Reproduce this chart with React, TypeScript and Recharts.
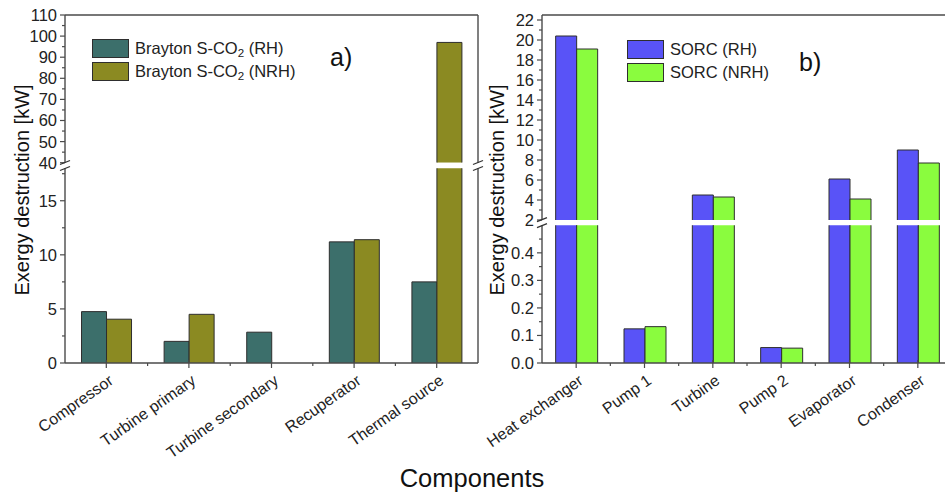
import React from "react";
import { Bar, BarChart, XAxis, YAxis } from "recharts";

const braytonCategories = ["Compressor", "Turbine primary", "Turbine secondary", "Recuperator", "Thermal source"];
const braytonRH = [4.75, 2.0, 2.85, 11.2, 7.5];
const braytonNRH = [4.05, 4.5, null, 11.4, 97];

const sorcCategories = ["Heat exchanger", "Pump 1", "Turbine", "Pump 2", "Evaporator", "Condenser"];
const sorcRH = [20.4, 0.124, 4.5, 0.056, 6.1, 9.0];
const sorcNRH = [19.1, 0.132, 4.3, 0.054, 4.1, 7.7];

// tick labels (major) and minor tick positions for each axis segment
const braytonUpperTicks = [40, 50, 60, 70, 80, 90, 100, 110];
const braytonUpperMinor = [45, 55, 65, 75, 85, 95, 105];
const braytonLowerTicks = [0, 5, 10, 15];
const braytonLowerMinor = [2.5, 7.5, 12.5, 17.5];
const sorcUpperTicks = [2, 4, 6, 8, 10, 12, 14, 16, 18, 20, 22];
const sorcUpperMinor = [3, 5, 7, 9, 11, 13, 15, 17, 19, 21];
const sorcLowerTicks = [0, 0.1, 0.2, 0.3, 0.4];
const sorcLowerMinor = [0.05, 0.15, 0.25, 0.35, 0.45];

const FONT = "'Liberation Sans', Arial, sans-serif";
const AXIS = "#4a4a4a";
const TEAL = "#3c6f6b";
const OLIVE = "#8b8a22";
const BLUE = "#5953f7";
const GREEN = "#8afc3e";
const EDGE = "#2e2e2e";

const H = 494;

type Panel = {
  x0: number;
  x1: number;
  width: number;
  upper: { y0: number; y1: number; domain: [number, number] };
  lower: { y0: number; y1: number; domain: [number, number] };
};

const left: Panel = {
  x0: 65,
  x1: 478,
  width: 480,
  upper: { y0: 15, y1: 162.7, domain: [40, 110] },
  lower: { y0: 168.3, y1: 363, domain: [0, 18] },
};
const right: Panel = {
  x0: 542,
  x1: 952,
  width: 952,
  upper: { y0: 15, y1: 220, domain: [2, 22.5] },
  lower: { y0: 225.3, y1: 363, domain: [0, 0.5] },
};

function buildRows(cats: string[], a: (number | null)[], b: (number | null)[]) {
  return cats.map((name, i) => ({ name, a: a[i], b: b[i] }));
}

function makeYTick(majors: number[], fmt: (v: number) => string) {
  return (props: any) => {
    const { x, y, payload } = props;
    const v = payload.value as number;
    const isMajor = majors.some((m) => Math.abs(m - v) < 1e-9);
    return (
      <g>
        <line x1={x} x2={x - (isMajor ? 5 : 3)} y1={y} y2={y} stroke={AXIS} strokeWidth={1.2} />
        {isMajor && (
          <text x={x - 8} y={y} dy="0.36em" textAnchor="end" fontFamily={FONT} fontSize={16.5} fill="#222">
            {fmt(v)}
          </text>
        )}
      </g>
    );
  };
}

function makeXTick(band: number, count: number) {
  return (props: any) => {
    const { x, y, payload, index } = props;
    return (
      <g>
        <line x1={x} x2={x} y1={y - 3} y2={y + 5} stroke={AXIS} strokeWidth={1.2} />
        {index < count - 1 && (
          <line x1={x + band / 2} x2={x + band / 2} y1={y} y2={y + 3} stroke={AXIS} strokeWidth={1.2} />
        )}
        <text
          transform={`translate(${x + 8},${y + 20}) rotate(-35)`}
          textAnchor="end"
          fontFamily={FONT}
          fontSize={16}
          fill="#222"
        >
          {payload.value}
        </text>
      </g>
    );
  };
}

// bar body with outline on the left, top and right sides only, so the axis break stays clean
function OpenBar(props: any) {
  const { x, y, width, height, fill } = props;
  if (!height || height <= 0) return null;
  return (
    <g>
      <rect x={x} y={y} width={width} height={height} fill={fill} />
      <path
        d={`M${x},${y + height} L${x},${y} L${x + width},${y} L${x + width},${y + height}`}
        fill="none"
        stroke={EDGE}
        strokeWidth={1}
      />
    </g>
  );
}

function Segment({
  panel,
  part,
  rows,
  colors,
  ticks,
  minor,
  fmt,
}: {
  panel: Panel;
  part: "upper" | "lower";
  rows: { name: string; a: number | null; b: number | null }[];
  colors: [string, string];
  ticks: number[];
  minor: number[];
  fmt: (v: number) => string;
}) {
  const seg = panel[part];
  const isLower = part === "lower";
  const xAxisH = isLower ? 100 : 1;
  const margin = isLower
    ? { top: seg.y0, right: panel.width - panel.x1 - 1, left: panel.x0 - 60, bottom: H - seg.y1 - xAxisH }
    : { top: seg.y0 - 1, right: panel.width - panel.x1 - 1, left: panel.x0 - 60, bottom: H - seg.y1 };
  // upper segment only shows the part of a bar above its lower bound
  const data = isLower ? rows : rows.map((r) => ({
    name: r.name,
    a: r.a != null && r.a > seg.domain[0] ? r.a : null,
    b: r.b != null && r.b > seg.domain[0] ? r.b : null,
  }));
  const band = (panel.x1 - panel.x0) / rows.length;
  const allTicks = [...ticks, ...minor].sort((p, q) => p - q);
  return (
    <div style={{ position: "absolute", left: 0, top: 0 }}>
      <BarChart width={panel.width} height={H} data={data} margin={margin} barCategoryGap="20%" barGap={0}>
        {isLower ? (
          <XAxis
            dataKey="name"
            height={xAxisH}
            interval={0}
            tickSize={0}
            tickMargin={0}
            tickLine={false}
            axisLine={{ stroke: AXIS, strokeWidth: 1.4 }}
            tick={makeXTick(band, rows.length)}
          />
        ) : (
          <XAxis
            dataKey="name"
            orientation="top"
            height={1}
            tick={false}
            tickLine={false}
            axisLine={{ stroke: AXIS, strokeWidth: 1.4 }}
          />
        )}
        <YAxis
          type="number"
          domain={seg.domain}
          allowDataOverflow
          ticks={allTicks}
          interval={0}
          width={60}
          tickSize={0}
          tickMargin={0}
          tickLine={false}
          axisLine={{ stroke: AXIS, strokeWidth: 1.4 }}
          tick={makeYTick(ticks, fmt)}
        />
        <YAxis
          yAxisId="frame"
          orientation="right"
          type="number"
          domain={[0, 1]}
          width={1}
          tick={false}
          tickLine={false}
          axisLine={{ stroke: AXIS, strokeWidth: 1.4 }}
        />
        <Bar dataKey="a" fill={colors[0]} shape={OpenBar} isAnimationActive={false} />
        <Bar dataKey="b" fill={colors[1]} shape={OpenBar} isAnimationActive={false} />
      </BarChart>
    </div>
  );
}

function BreakMark({ x, y }: { x: number; y: number }) {
  return (
    <g stroke="#333" strokeWidth={1.3}>
      <line x1={x - 5} y1={y - 1} x2={x + 5} y2={y - 5} />
      <line x1={x - 5} y1={y + 5} x2={x + 5} y2={y + 1} />
    </g>
  );
}

function LegendBox({
  x,
  y,
  items,
}: {
  x: number;
  y: number;
  items: { color: string; label: React.ReactNode }[];
}) {
  return (
    <div style={{ position: "absolute", left: x, top: y, fontFamily: FONT, fontSize: 16.5, color: "#222" }}>
      {items.map((it, i) => (
        <div key={i} style={{ display: "flex", alignItems: "center", height: 23 }}>
          <div
            style={{
              width: 35,
              height: 17,
              background: it.color,
              border: `1px solid ${EDGE}`,
              marginRight: 6,
            }}
          />
          <span style={{ whiteSpace: "nowrap" }}>{it.label}</span>
        </div>
      ))}
    </div>
  );
}

const fmtInt = (v: number) => String(v);
const fmtOne = (v: number) => v.toFixed(1);

export default function App() {
  const braytonRows = buildRows(braytonCategories, braytonRH, braytonNRH);
  const sorcRows = buildRows(sorcCategories, sorcRH, sorcNRH);
  const sub = (s: string) => <sub style={{ fontSize: "0.7em", verticalAlign: "-0.25em" }}>{s}</sub>;
  return (
    <div
      style={{
        position: "absolute",
        left: 0,
        top: 0,
        width: 945,
        height: H,
        overflow: "hidden",
        background: "#fff",
      }}
    >
      <Segment panel={left} part="upper" rows={braytonRows} colors={[TEAL, OLIVE]} ticks={braytonUpperTicks} minor={braytonUpperMinor} fmt={fmtInt} />
      <Segment panel={left} part="lower" rows={braytonRows} colors={[TEAL, OLIVE]} ticks={braytonLowerTicks} minor={braytonLowerMinor} fmt={fmtInt} />
      <Segment panel={right} part="upper" rows={sorcRows} colors={[BLUE, GREEN]} ticks={sorcUpperTicks} minor={sorcUpperMinor} fmt={fmtInt} />
      <Segment panel={right} part="lower" rows={sorcRows} colors={[BLUE, GREEN]} ticks={sorcLowerTicks} minor={sorcLowerMinor} fmt={fmtOne} />

      <svg width={945} height={H} style={{ position: "absolute", left: 0, top: 0, pointerEvents: "none" }}>
        <BreakMark x={left.x0} y={(left.upper.y1 + left.lower.y0) / 2} />
        <BreakMark x={left.x1} y={(left.upper.y1 + left.lower.y0) / 2} />
        <BreakMark x={right.x0} y={(right.upper.y1 + right.lower.y0) / 2} />
        <text transform="translate(29,190) rotate(-90)" textAnchor="middle" fontFamily={FONT} fontSize={20} fill="#111">
          Exergy destruction [kW]
        </text>
        <text transform="translate(504,190) rotate(-90)" textAnchor="middle" fontFamily={FONT} fontSize={20} fill="#111">
          Exergy destruction [kW]
        </text>
        <text x={472} y={487} textAnchor="middle" fontFamily={FONT} fontSize={25.5} fill="#111">
          Components
        </text>
        <text x={330} y={66} fontFamily={FONT} fontSize={25} fill="#111">
          a)
        </text>
        <text x={799} y={71} fontFamily={FONT} fontSize={25} fill="#111">
          b)
        </text>
      </svg>

      <LegendBox
        x={92}
        y={37}
        items={[
          { color: TEAL, label: <>Brayton S-CO{sub("2")} (RH)</> },
          { color: OLIVE, label: <>Brayton S-CO{sub("2")} (NRH)</> },
        ]}
      />
      <LegendBox
        x={627}
        y={38}
        items={[
          { color: BLUE, label: "SORC (RH)" },
          { color: GREEN, label: "SORC (NRH)" },
        ]}
      />
    </div>
  );
}
